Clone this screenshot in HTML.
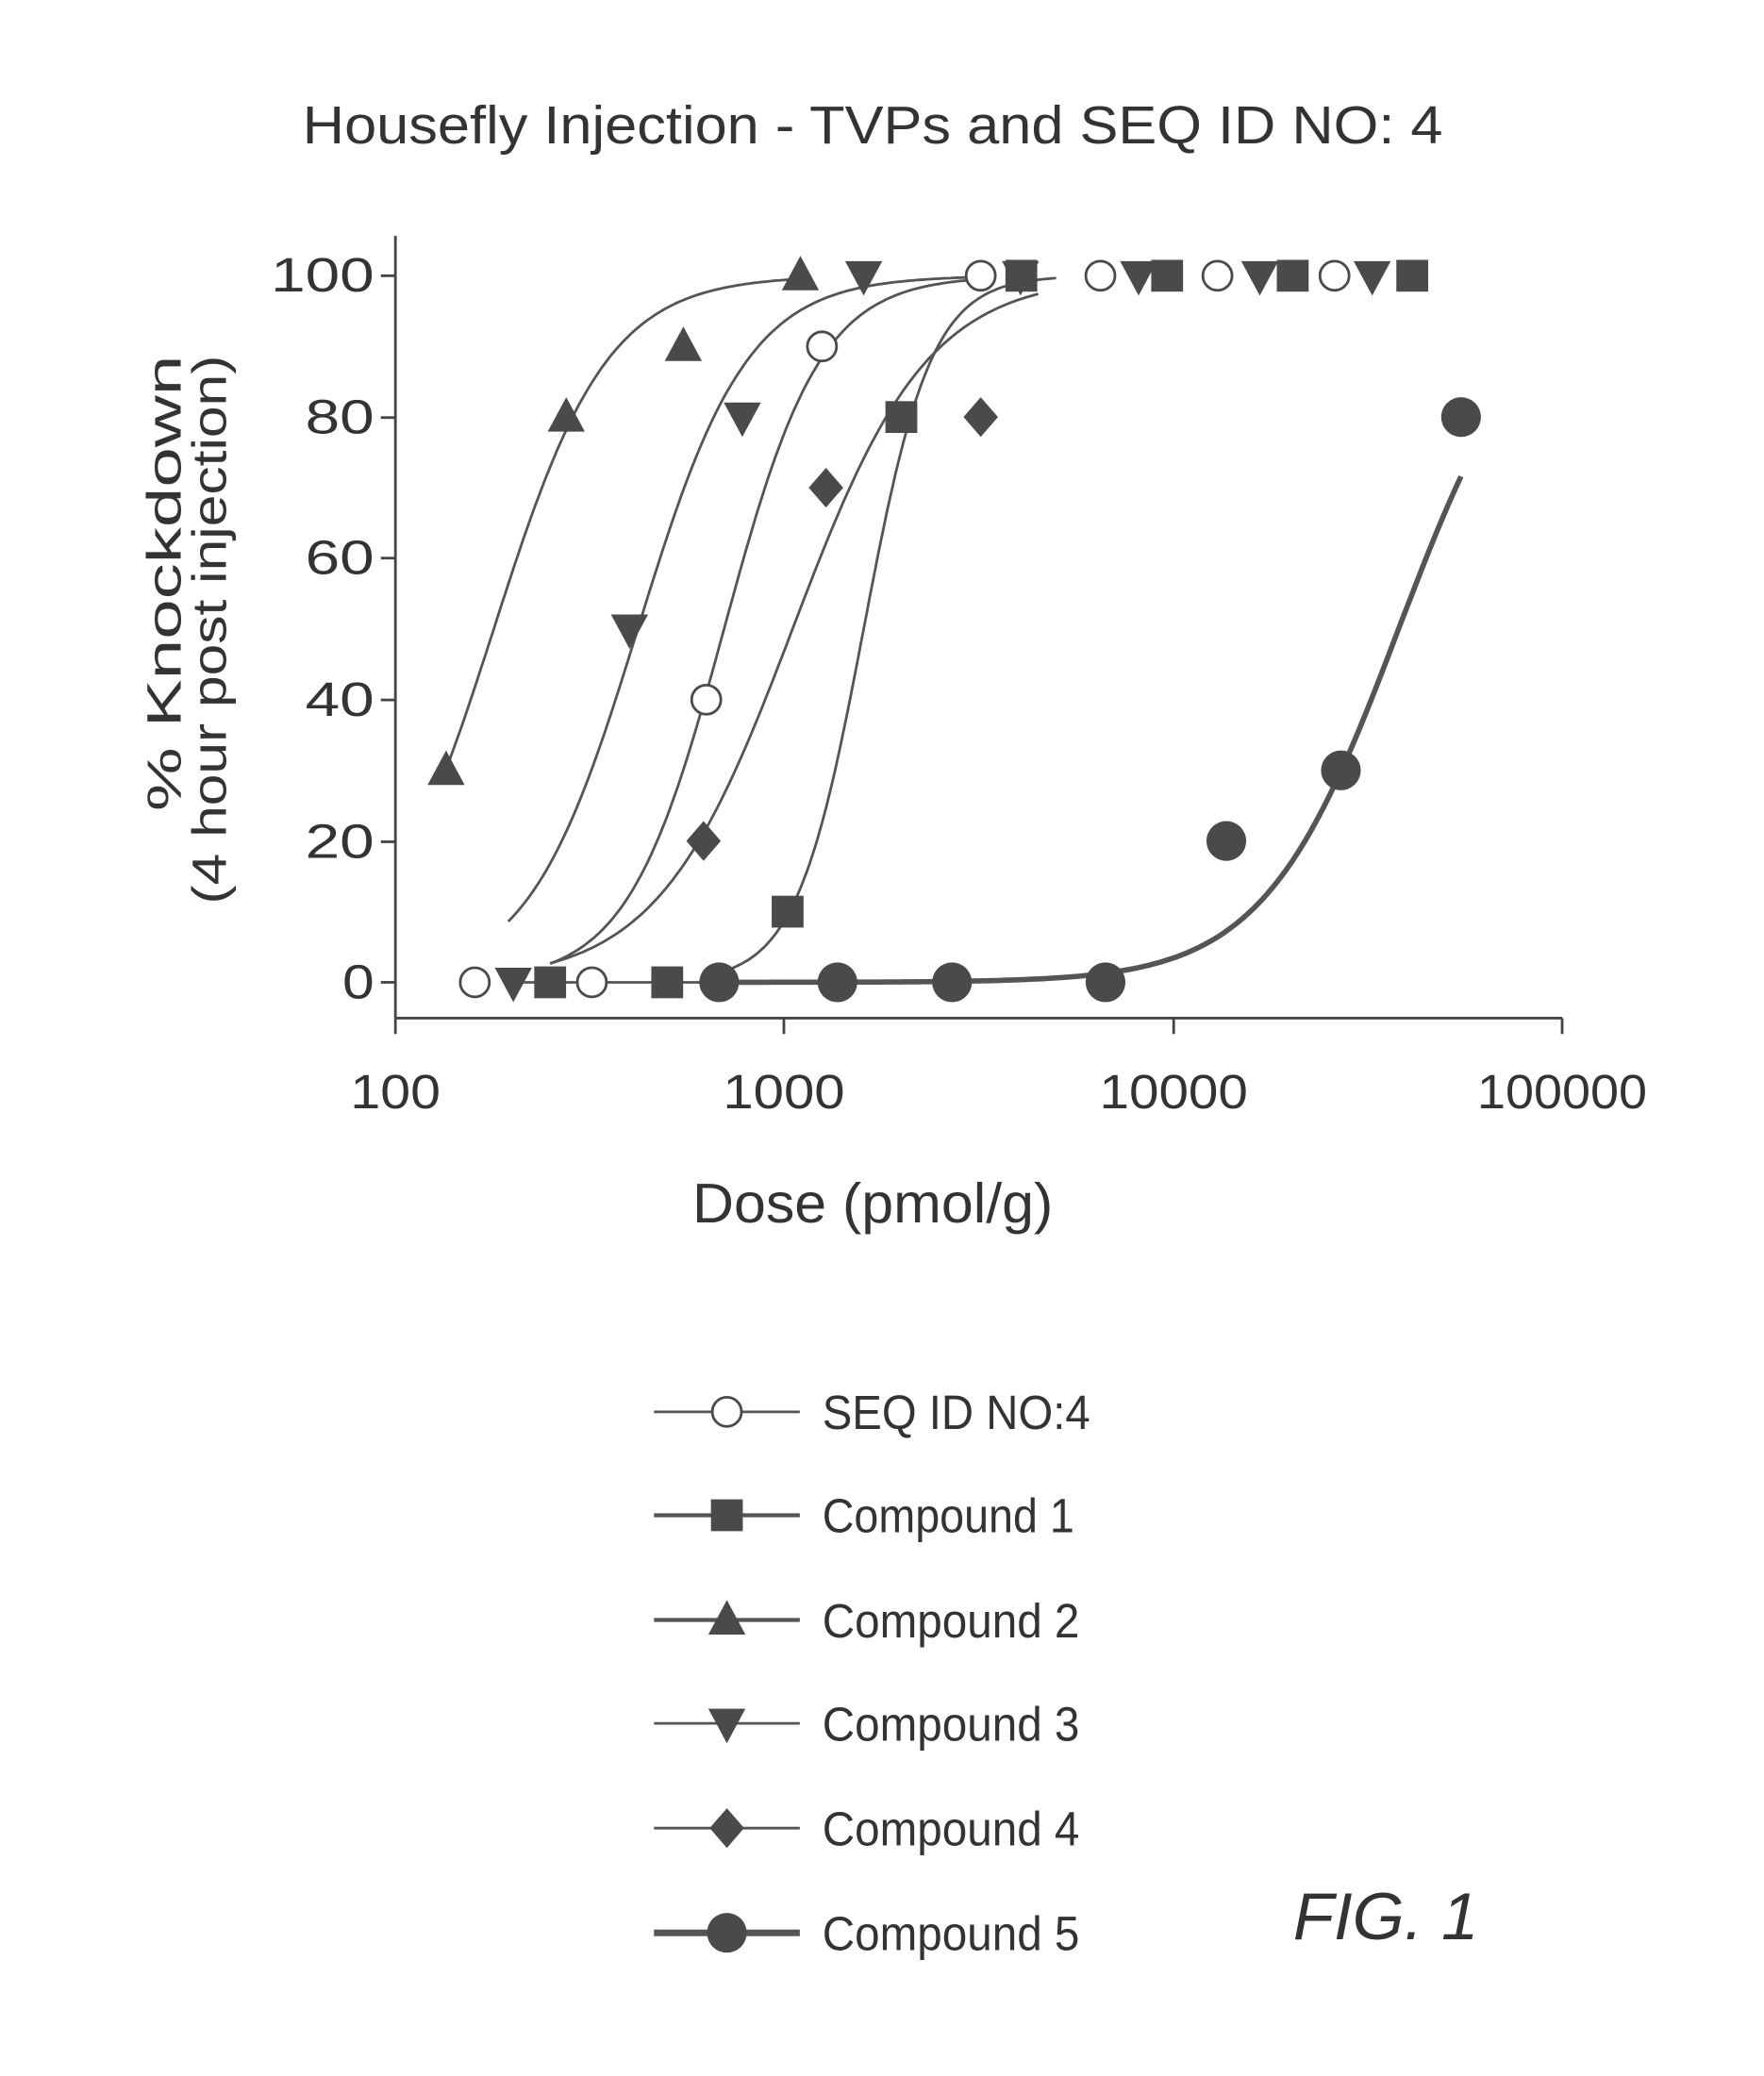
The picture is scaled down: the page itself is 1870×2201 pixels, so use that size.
<!DOCTYPE html>
<html><head><meta charset="utf-8"><style>
html,body{margin:0;padding:0;background:#fff;}
svg{display:block;}
text{font-family:"Liberation Sans",sans-serif;fill:#333;}
</style></head><body>
<svg id="s" width="1870" height="2201" viewBox="0 0 1330 1566" xmlns="http://www.w3.org/2000/svg">
<rect width="1330" height="1566" fill="#fff"/>
<text x="658" y="108" font-size="40" text-anchor="middle" textLength="860" lengthAdjust="spacingAndGlyphs">Housefly Injection - TVPs and SEQ ID NO: 4</text>
<g stroke="#444" stroke-width="2" fill="none">
<line x1="298" y1="178" x2="298" y2="768"/>
<line x1="298" y1="768" x2="1178" y2="768"/>
<line x1="287" y1="741" x2="298" y2="741"/><line x1="287" y1="635" x2="298" y2="635"/>
<line x1="287" y1="528" x2="298" y2="528"/><line x1="287" y1="421" x2="298" y2="421"/>
<line x1="287" y1="315" x2="298" y2="315"/><line x1="287" y1="208" x2="298" y2="208"/>
<line x1="298" y1="768" x2="298" y2="780"/><line x1="591" y1="768" x2="591" y2="780"/>
<line x1="885" y1="768" x2="885" y2="780"/><line x1="1178" y1="768" x2="1178" y2="780"/>
</g>
<g font-size="36" text-anchor="end">
<text x="282" y="753" textLength="24" lengthAdjust="spacingAndGlyphs">0</text>
<text x="282" y="647" textLength="52" lengthAdjust="spacingAndGlyphs">20</text>
<text x="282" y="540" textLength="52" lengthAdjust="spacingAndGlyphs">40</text>
<text x="282" y="433" textLength="52" lengthAdjust="spacingAndGlyphs">60</text>
<text x="282" y="327" textLength="52" lengthAdjust="spacingAndGlyphs">80</text>
<text x="282" y="220" textLength="78" lengthAdjust="spacingAndGlyphs">100</text>
</g>
<g font-size="36" text-anchor="middle">
<text x="298" y="836" textLength="68" lengthAdjust="spacingAndGlyphs">100</text>
<text x="591" y="836" textLength="92" lengthAdjust="spacingAndGlyphs">1000</text>
<text x="885" y="836" textLength="112" lengthAdjust="spacingAndGlyphs">10000</text>
<text x="1178" y="836" textLength="128" lengthAdjust="spacingAndGlyphs">100000</text>
</g>
<text x="658" y="922" font-size="42" text-anchor="middle" textLength="272" lengthAdjust="spacingAndGlyphs">Dose (pmol/g)</text>
<g transform="rotate(-90)" font-size="36" text-anchor="middle">
<text x="-440" y="136" textLength="344" lengthAdjust="spacingAndGlyphs">% Knockdown</text>
<text x="-475" y="170" textLength="414" lengthAdjust="spacingAndGlyphs">(4 hour post injection)</text>
</g>
<g font-size="36">
<text x="620" y="1078" textLength="202" lengthAdjust="spacingAndGlyphs">SEQ ID NO:4</text>
<text x="620" y="1156" textLength="190" lengthAdjust="spacingAndGlyphs">Compound 1</text>
<text x="620" y="1235" textLength="194" lengthAdjust="spacingAndGlyphs">Compound 2</text>
<text x="620" y="1313" textLength="194" lengthAdjust="spacingAndGlyphs">Compound 3</text>
<text x="620" y="1392" textLength="194" lengthAdjust="spacingAndGlyphs">Compound 4</text>
<text x="620" y="1471" textLength="194" lengthAdjust="spacingAndGlyphs">Compound 5</text>
</g>
<text x="975" y="1463" font-size="50" font-style="italic" textLength="140" lengthAdjust="spacingAndGlyphs">FIG. 1</text>
<g id="g"></g>
</svg>
<script>
var g=document.getElementById('g'),NS='http://www.w3.org/2000/svg',C='#4a4a4a';
function X(d){return 298+293.3*Math.log10(d/100);}
function Y(p){return 741-5.33*p;}
function el(t,a){var e=document.createElementNS(NS,t);for(var k in a)e.setAttribute(k,a[k]);g.appendChild(e);return e;}
function curve(ec,h,d0,d1,w){var s='';for(var i=0;i<=120;i++){var d=d0*Math.pow(d1/d0,i/120);var p=100/(1+Math.pow(ec/d,h));s+=(i?'L':'M')+X(d).toFixed(1)+' '+Y(p).toFixed(1);}el('path',{d:s,stroke:'#555','stroke-width':w,fill:'none'});}
function mk(t,x,y){
 if(t=='oc')el('circle',{cx:x,cy:y,r:11,fill:'#fff',stroke:C,'stroke-width':2});
 if(t=='sq')el('rect',{x:x-12,y:y-12,width:24,height:24,fill:C});
 if(t=='tu')el('polygon',{points:(x)+','+(y-15)+' '+(x-14)+','+(y+11)+' '+(x+14)+','+(y+11),fill:C});
 if(t=='td')el('polygon',{points:(x)+','+(y+15)+' '+(x-14)+','+(y-11)+' '+(x+14)+','+(y-11),fill:C});
 if(t=='di')el('polygon',{points:x+','+(y-15)+' '+(x+13)+','+y+' '+x+','+(y+15)+' '+(x-13)+','+y,fill:C});
 if(t=='fc')el('circle',{cx:x,cy:y,r:15,fill:C});
}
curve(179,2.97,135,1100,2);
curve(420,3.08,195,3000,2);
curve(700,3.5,250,3300,2);
curve(1050,2.5,250,4500,2);
curve(1600,5,650,5000,2);
el('line',{x1:X(200),y1:Y(0),x2:X(700),y2:Y(0),stroke:'#555','stroke-width':2});
curve(38000,2.5,650,55000,4);
var D={
fc:[[680,0],[1370,0],[2700,0],[6700,0],[13700,20],[27000,30],[55000,80]],
sq:[[250,0],[500,0],[1020,10],[2000,80],[4070,100],[9650,100],[20300,100],[41200,100]],
td:[[201,0],[400,50],[780,80],[1600,100],[4050,100],[8150,100],[16700,100],[32500,100]],
di:[[620,20],[1280,70],[3200,80]],
tu:[[135,30],[275,80],[550,90],[1100,100]],
oc:[[160,0],[320,0],[630,40],[1250,90],[3200,100],[6500,100],[13000,100],[26000,100]]};
for(var t in D)D[t].forEach(function(p){mk(t,X(p[0]),Y(p[1]));});
var L=[['oc',1065,2],['sq',1143,3],['tu',1222,3],['td',1300,2],['di',1379,2],['fc',1458,5]];
L.forEach(function(l){el('line',{x1:493,y1:l[1],x2:603,y2:l[1],stroke:'#555','stroke-width':l[2]});mk(l[0],548,l[1]);});
</script>
</body></html>
